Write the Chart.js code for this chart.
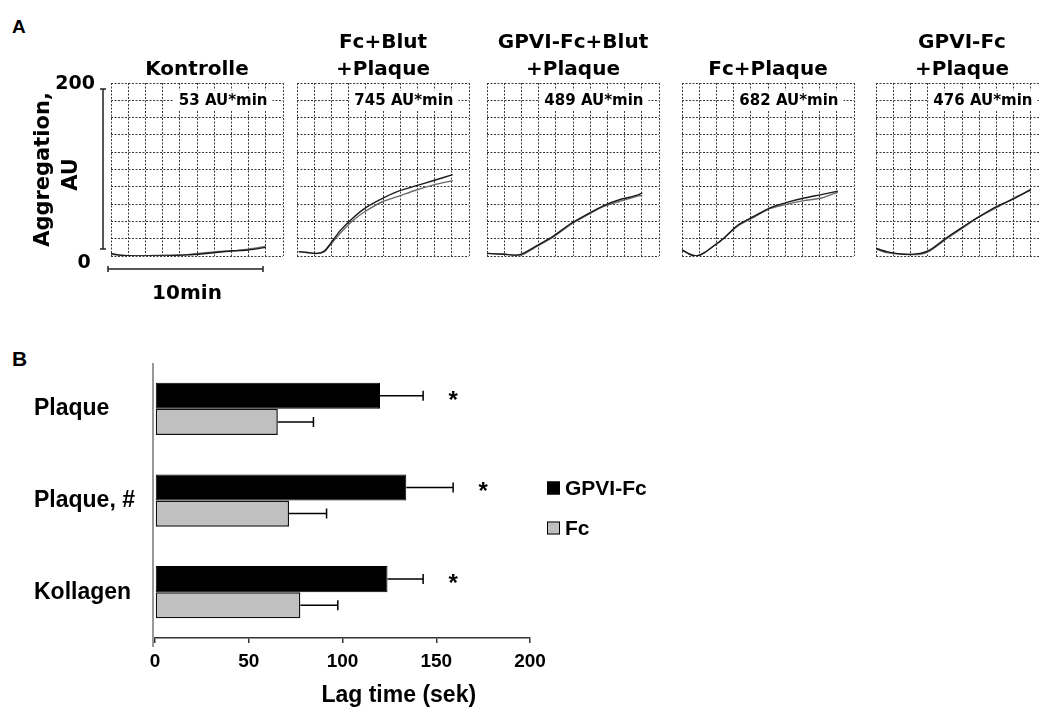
<!DOCTYPE html>
<html>
<head>
<meta charset="utf-8">
<script src="https://cdn.jsdelivr.net/npm/chart.js@4.4.1/dist/chart.umd.min.js"></script>
<style>
  html, body { margin: 0; padding: 0; background: #fff; overflow: hidden; }
  #fig { position: relative; width: 1040px; height: 707px; overflow: hidden; background: #fff; }
  #fig canvas { position: absolute; }
  .panel-label { position: absolute; font-family: 'Liberation Sans', Arial, sans-serif; font-weight: bold; color: #000; line-height: 1; }
</style>
</head>
<body>
<div id="fig">
  <div class="panel-label" style="left:12px; top:17px; font-size:19px;">A</div>
  <div class="panel-label" style="left:12px; top:348px; font-size:21px;">B</div>
  <canvas id="agg0" width="285" height="310" style="left:0; top:0;"></canvas>
  <canvas id="agg1" width="176" height="260" style="left:295px; top:0;"></canvas>
  <canvas id="agg2" width="176" height="260" style="left:485px; top:0;"></canvas>
  <canvas id="agg3" width="176" height="260" style="left:680px; top:0;"></canvas>
  <canvas id="agg4" width="176" height="260" style="left:874px; top:0;"></canvas>
  <canvas id="lagChart" width="720" height="377" style="left:0; top:330px;"></canvas>
</div>
<script>
// ---- Panel A: aggregation traces (x in grid divisions, y in AU; one division = 20 AU)
const panelTitles = [['Kontrolle'], ['Fc+Blut', '+Plaque'], ['GPVI-Fc+Blut', '+Plaque'], ['Fc+Plaque'], ['GPVI-Fc', '+Plaque']];
const aucValues = [53, 745, 489, 682, 476];

const tKontrolle = [0, 0.5, 1.7, 3.0, 4.0, 5.1, 6.1, 7.1, 8.0, 9.0];
const kontrolle1 = [3, 1, 0, 0, 1, 2, 4, 6, 7, 10];
const kontrolle2 = [2, 1, 0, 1, 1, 3, 5, 6, 8, 11];

const tFcBlut = [0.1, 0.6, 1.2, 1.6, 1.9, 2.5, 3.25, 4.0, 5.0, 5.9, 6.9, 7.9, 9.05];
const fcBlut1 = [5, 4, 3, 6, 13, 29, 44, 56, 67, 75, 81, 87, 94];
const fcBlut2 = [5, 4, 3, 5, 12, 26, 41, 52, 63, 69, 76, 82, 87];

const tGpviBlut = [0, 1.0, 1.74, 2.1, 2.9, 3.86, 4.83, 5.8, 6.76, 7.7, 8.7, 9.03];
const gpviBlut1 = [3, 2, 1, 3, 12, 23, 37, 48, 58, 65, 70, 73];
const gpviBlut2 = [3, 2, 1, 2, 11, 22, 36, 47, 57, 63, 69, 70];

const tFcPlaque = [0, 0.45, 0.84, 1.23, 1.8, 2.4, 3.2, 4.2, 5.15, 6.1, 7.1, 8.1, 9.06];
const fcPlaque1 = [7, 2, 0, 3, 11, 20, 35, 46, 56, 62, 67, 71, 75];
const fcPlaque2 = [7, 2, 0, 3, 11, 20, 34, 45, 55, 60, 64, 67, 74];

const tGpviPlaque = [0, 0.62, 1.59, 2.56, 3.14, 4.1, 5.08, 6.05, 7.0, 8.0, 9.0];
const gpviPlaque1 = [9, 5, 2, 3, 7, 21, 34, 46, 57, 66, 77];
const gpviPlaque2 = [8, 4, 2, 2, 6, 20, 33, 46, 56, 67, 76];

// ---- Panel B: lag time (sek)
const lagCategories = ['Plaque', 'Plaque, #', 'Kollagen'];
const lagGPVI = [120, 134, 124];
const lagGPVIErr = [23, 25, 19];
const lagFc = [65.5, 71.5, 77.5];
const lagFcErr = [19, 20, 20];
const lagSignificant = ['*', '*', '*'];

const traces = [
  { t: tKontrolle, a: kontrolle1, b: kontrolle2 },
  { t: tFcBlut, a: fcBlut1, b: fcBlut2 },
  { t: tGpviBlut, a: gpviBlut1, b: gpviBlut2 },
  { t: tFcPlaque, a: fcPlaque1, b: fcPlaque2 },
  { t: tGpviPlaque, a: gpviPlaque1, b: gpviPlaque2 }
];

const aggFont = '"DejaVu Sans", sans-serif';
const barFont = '"Liberation Sans", Arial, sans-serif';

// "xxx AU*min" box in the upper right of every trace panel
const aucLabelPlugin = {
  id: 'aucLabel',
  afterDraw(chart, args, opts) {
    if (opts.value == null) return;
    const ctx = chart.ctx;
    const x = chart.scales.x.getPixelForValue(9.1);
    const y = chart.scales.y.getPixelForValue(180);
    const text = opts.value + ' AU*min';
    ctx.save();
    ctx.font = 'bold 15px ' + aggFont;
    const w = ctx.measureText(text).width;
    ctx.fillStyle = '#fff';
    ctx.fillRect(x - w - 5, y - 10, w + 10, 20);
    ctx.fillStyle = '#000';
    ctx.textAlign = 'right';
    ctx.textBaseline = 'middle';
    ctx.fillText(text, x, y + 1);
    ctx.restore();
  }
};

// scale bars + axis title next to the first panel
const aggAxisPlugin = {
  id: 'aggAxis',
  afterDraw(chart) {
    const ctx = chart.ctx;
    const { left, top, bottom } = chart.chartArea;
    ctx.save();
    ctx.strokeStyle = '#222';
    ctx.lineWidth = 1.5;
    const bx = left - 8, by0 = top + 6, by1 = bottom - 7;
    const ty = bottom + 13, tx0 = left - 3, tx1 = left + 152;
    ctx.beginPath();
    ctx.moveTo(bx, by0); ctx.lineTo(bx, by1);
    ctx.moveTo(bx - 3, by0); ctx.lineTo(bx + 3, by0);
    ctx.moveTo(bx - 3, by1); ctx.lineTo(bx + 3, by1);
    ctx.moveTo(tx0, ty); ctx.lineTo(tx1, ty);
    ctx.moveTo(tx0, ty - 3); ctx.lineTo(tx0, ty + 3);
    ctx.moveTo(tx1, ty - 3); ctx.lineTo(tx1, ty + 3);
    ctx.stroke();

    ctx.fillStyle = '#000';
    ctx.textBaseline = 'middle';
    ctx.font = 'bold 19px ' + aggFont;
    ctx.textAlign = 'right';
    ctx.fillText('200', left - 16, top + 1);
    ctx.textAlign = 'center';
    ctx.fillText('0', left - 27, bottom + 7);
    ctx.font = 'bold 20px ' + aggFont;
    ctx.fillText('10min', left + 76, bottom + 38);

    ctx.font = 'bold 21px ' + aggFont;
    ctx.translate(left - 67, (top + bottom) / 2);
    ctx.rotate(-Math.PI / 2);
    ctx.fillText('Aggregation,', 0, 0);
    ctx.fillText('AU', -5, 28);
    ctx.restore();
  }
};

function aggChart(id, k, padLeft, padBottom, extra) {
  const tr = traces[k];
  const gridOpts = { color: '#3a3a3a', lineWidth: 1, drawTicks: false };
  return new Chart(document.getElementById(id), {
    type: 'line',
    data: {
      datasets: [
        { data: tr.t.map((x, j) => ({ x, y: tr.a[j] })), borderColor: '#1a1a1a', borderWidth: 1.4 },
        { data: tr.t.map((x, j) => ({ x, y: tr.b[j] })), borderColor: '#6a6a6a', borderWidth: 1.4 }
      ]
    },
    options: {
      responsive: false,
      animation: false,
      layout: { padding: { left: padLeft, right: 2, top: 0, bottom: padBottom } },
      elements: { point: { radius: 0 }, line: { tension: 0.25 } },
      scales: {
        x: { type: 'linear', min: 0, max: 10, ticks: { display: false, stepSize: 1 }, grid: gridOpts, border: { display: false, dash: [2, 1.5] } },
        y: { type: 'linear', min: 0, max: 200, ticks: { display: false, stepSize: 20 }, grid: gridOpts, border: { display: false, dash: [2, 1.5] } }
      },
      plugins: {
        legend: { display: false },
        tooltip: { enabled: false },
        title: {
          display: true,
          text: panelTitles[k],
          color: '#000',
          font: { family: aggFont, weight: 'bold', size: 20, lineHeight: 1.35 },
          padding: { top: panelTitles[k].length === 2 ? 29 : 56, bottom: 0 }
        },
        aucLabel: { value: aucValues[k] }
      }
    },
    plugins: [aucLabelPlugin].concat(extra || [])
  });
}

aggChart('agg0', 0, 111, 54, [aggAxisPlugin]);
aggChart('agg1', 1, 2, 4);
aggChart('agg2', 2, 2, 4);
aggChart('agg3', 3, 2, 4);
aggChart('agg4', 4, 2, 4);

// error bars on the horizontal bars
const errorBarPlugin = {
  id: 'errorBars',
  afterDatasetsDraw(chart) {
    const ctx = chart.ctx, xs = chart.scales.x;
    ctx.save();
    ctx.strokeStyle = '#000';
    ctx.lineWidth = 1.5;
    chart.data.datasets.forEach((ds, i) => {
      chart.getDatasetMeta(i).data.forEach((bar, j) => {
        const x1 = xs.getPixelForValue(ds.data[j] + ds.errors[j]);
        ctx.beginPath();
        ctx.moveTo(bar.x, bar.y); ctx.lineTo(x1, bar.y);
        ctx.moveTo(x1, bar.y - 5); ctx.lineTo(x1, bar.y + 5);
        ctx.stroke();
      });
    });
    ctx.restore();
  }
};

// y axis line, significance stars, legend and x title for panel B
const lagDecorPlugin = {
  id: 'lagDecor',
  afterDraw(chart) {
    const ctx = chart.ctx, xs = chart.scales.x, area = chart.chartArea;
    ctx.save();
    ctx.strokeStyle = '#777';
    ctx.lineWidth = 1.5;
    ctx.beginPath();
    ctx.moveTo(area.left - 2, area.top);
    ctx.lineTo(area.left - 2, area.bottom + 9);
    ctx.stroke();

    const gpvi = chart.data.datasets[0];
    ctx.fillStyle = '#000';
    ctx.font = 'bold 24px ' + barFont;
    ctx.textAlign = 'center';
    ctx.textBaseline = 'alphabetic';
    chart.getDatasetMeta(0).data.forEach((bar, j) => {
      if (!lagSignificant[j]) return;
      ctx.fillText(lagSignificant[j], xs.getPixelForValue(gpvi.data[j] + gpvi.errors[j] + 16), bar.y + 12);
    });

    const cy = (area.top + area.bottom) / 2;
    const lx = area.right + 17;
    chart.data.datasets.forEach((ds, i) => {
      const y = cy - 12.5 + i * 40;
      ctx.fillStyle = ds.backgroundColor;
      ctx.fillRect(lx, y - 6.5, 13, 13);
      ctx.strokeStyle = '#000';
      ctx.lineWidth = 1;
      ctx.strokeRect(lx + 0.5, y - 6, 12, 12);
      ctx.fillStyle = '#000';
      ctx.font = 'bold 21px ' + barFont;
      ctx.textAlign = 'left';
      ctx.textBaseline = 'middle';
      ctx.fillText(ds.label, lx + 18, y + 1);
    });

    ctx.font = 'bold 23px ' + barFont;
    ctx.textAlign = 'center';
    ctx.textBaseline = 'alphabetic';
    ctx.fillText('Lag time (sek)', xs.getPixelForValue(130), area.bottom + 64);
    ctx.restore();
  }
};

new Chart(document.getElementById('lagChart'), {
  type: 'bar',
  data: {
    labels: lagCategories,
    datasets: [
      {
        label: 'GPVI-Fc', data: lagGPVI, errors: lagGPVIErr,
        backgroundColor: '#000', borderColor: '#000', borderWidth: 1, borderSkipped: false,
        categoryPercentage: 0.57, barPercentage: 1
      },
      {
        label: 'Fc', data: lagFc, errors: lagFcErr,
        backgroundColor: '#c0c0c0', borderColor: '#111', borderWidth: 1.5, borderSkipped: false,
        categoryPercentage: 0.57, barPercentage: 1
      }
    ]
  },
  options: {
    indexAxis: 'y',
    responsive: false,
    animation: false,
    layout: { padding: { left: 34, top: 33, right: 190, bottom: 0 } },
    scales: {
      x: {
        min: 0, max: 200,
        ticks: { stepSize: 50, color: '#000', padding: 7, font: { family: barFont, weight: 'bold', size: 19 } },
        grid: { drawOnChartArea: false, drawTicks: true, tickLength: 5, color: '#333', lineWidth: 1.5 },
        border: { display: true, color: '#333', width: 1.5 },
        afterFit: (s) => { s.height = 69; }
      },
      y: {
        ticks: { crossAlign: 'far', color: '#000', font: { family: barFont, weight: 'bold', size: 23 } },
        grid: { display: false },
        border: { display: false },
        afterFit: (s) => { s.width = 121; }
      }
    },
    plugins: {
      legend: { display: false },
      tooltip: { enabled: false }
    }
  },
  plugins: [errorBarPlugin, lagDecorPlugin]
});
</script>
</body>
</html>
